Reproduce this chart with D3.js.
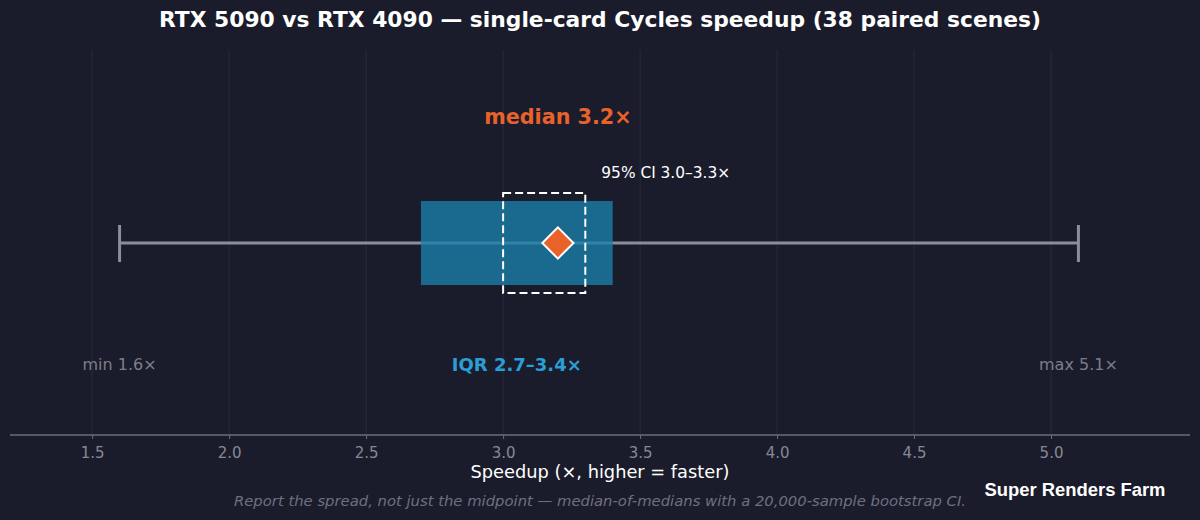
<!DOCTYPE html>
<html>
<head>
<meta charset="utf-8">
<script src="https://cdn.jsdelivr.net/npm/d3@7"></script>
<style>
  body { margin: 0; background: #1b1c2b; }
  svg { display: block; font-family: "DejaVu Sans", sans-serif; }
</style>
</head>
<body>
<svg id="chart" width="1200" height="520"></svg>
<script>
/*--- Data ---*/
const tickValues = [1.5, 2.0, 2.5, 3.0, 3.5, 4.0, 4.5, 5.0];
const whisker = [1.6, 5.1];      // min, max
const iqr = [2.7, 3.4];          // q1, q3
const ci = [3.0, 3.3];           // 95% bootstrap CI of the median
const median = 3.2;
const labels = {
    median: "median 3.2×",
    ci: "95% CI 3.0–3.3×",
    iqr: "IQR 2.7–3.4×",
    min: "min 1.6×",
    max: "max 5.1×"
};

/*--- Setup ---*/
const svg = d3.select("#chart");
const W = 1200, H = 520;
const left = 10, right = 1188, axisY = 435, topY = 50;
const rowY = 243;

const x = d3.scaleLinear().domain([1.2, 5.5]).range([left, right]);

svg.append("rect").attr("width", W).attr("height", H).attr("fill", "#1b1c2b");

// grid
svg.append("g").selectAll("line")
    .data(tickValues).join("line")
    .attr("x1", d => x(d)).attr("x2", d => x(d))
    .attr("y1", topY).attr("y2", axisY)
    .attr("stroke", "#282a3b").attr("stroke-width", 1);

// axis
const axis = svg.append("g")
    .attr("transform", `translate(0,${axisY})`)
    .call(d3.axisBottom(x).tickValues(tickValues).tickFormat(d3.format(".1f")).tickSize(4).tickPadding(8));
axis.select(".domain").attr("stroke", "#6b6d7c").attr("stroke-width", 1.5)
    .attr("d", `M${left},0H${right + 2}`);
axis.selectAll(".tick line").attr("stroke", "#6b6d7c");
axis.selectAll(".tick text").attr("fill", "#868897").attr("font-size", 15)
    .attr("font-family", "DejaVu Sans, sans-serif");

// whisker line + caps
svg.append("line")
    .attr("x1", x(whisker[0])).attr("x2", x(whisker[1]))
    .attr("y1", rowY).attr("y2", rowY)
    .attr("stroke", "#8b8d99").attr("stroke-width", 3);
svg.append("g").selectAll("line")
    .data(whisker).join("line")
    .attr("x1", d => x(d)).attr("x2", d => x(d))
    .attr("y1", rowY - 18).attr("y2", rowY + 19)
    .attr("stroke", "#8b8d99").attr("stroke-width", 3);

// IQR box
svg.append("rect")
    .attr("x", x(iqr[0])).attr("width", x(iqr[1]) - x(iqr[0]))
    .attr("y", rowY - 42).attr("height", 84)
    .attr("fill", "#1a80ad").attr("fill-opacity", 0.78);

// CI dashed box
svg.append("rect")
    .attr("x", x(ci[0])).attr("width", x(ci[1]) - x(ci[0]))
    .attr("y", rowY - 50).attr("height", 100)
    .attr("fill", "none").attr("stroke", "#ffffff").attr("stroke-width", 2)
    .attr("stroke-dasharray", "8,4");

// median diamond
svg.append("path")
    .attr("d", d3.symbol(d3.symbolDiamond2, 620)())
    .attr("transform", `translate(${x(median)},${rowY})`)
    .attr("fill", "#e8622a").attr("stroke", "#ffffff").attr("stroke-width", 2);

// annotations
svg.append("text").text(labels.median)
    .attr("x", x(median)).attr("y", 124).attr("text-anchor", "middle")
    .attr("fill", "#e8622a").attr("font-size", 20.7).attr("font-weight", "bold");
svg.append("text").text(labels.ci)
    .attr("x", x(ci[1]) + 16).attr("y", 178)
    .attr("fill", "#ffffff").attr("font-size", 15.4);
svg.append("text").text(labels.iqr)
    .attr("x", x((iqr[0] + iqr[1]) / 2)).attr("y", 371).attr("text-anchor", "middle")
    .attr("fill", "#2a9fd6").attr("font-size", 18).attr("font-weight", "bold");
svg.append("g").selectAll("text")
    .data([[whisker[0], labels.min], [whisker[1], labels.max]]).join("text")
    .text(d => d[1])
    .attr("x", d => x(d[0])).attr("y", 370).attr("text-anchor", "middle")
    .attr("fill", "#7c7e8c").attr("font-size", 16);

// titles
svg.append("text").text("RTX 5090 vs RTX 4090 — single-card Cycles speedup (38 paired scenes)")
    .attr("x", 600).attr("y", 27).attr("text-anchor", "middle")
    .attr("fill", "#ffffff").attr("font-size", 21.8).attr("font-weight", "bold");
svg.append("text").text("Speedup (×, higher = faster)")
    .attr("x", 600).attr("y", 478).attr("text-anchor", "middle")
    .attr("fill", "#ffffff").attr("font-size", 17.8);
svg.append("text").text("Report the spread, not just the midpoint — median-of-medians with a 20,000-sample bootstrap CI.")
    .attr("x", 600).attr("y", 506).attr("text-anchor", "middle")
    .attr("fill", "#6e7080").attr("font-size", 14.8).attr("font-style", "italic");
svg.append("text").text("Super Renders Farm")
    .attr("x", 1075).attr("y", 496).attr("text-anchor", "middle")
    .attr("fill", "#ffffff").attr("font-size", 18.4).attr("font-weight", "bold")
    .attr("font-family", "Liberation Sans, Arial, sans-serif");
</script>
</body>
</html>
